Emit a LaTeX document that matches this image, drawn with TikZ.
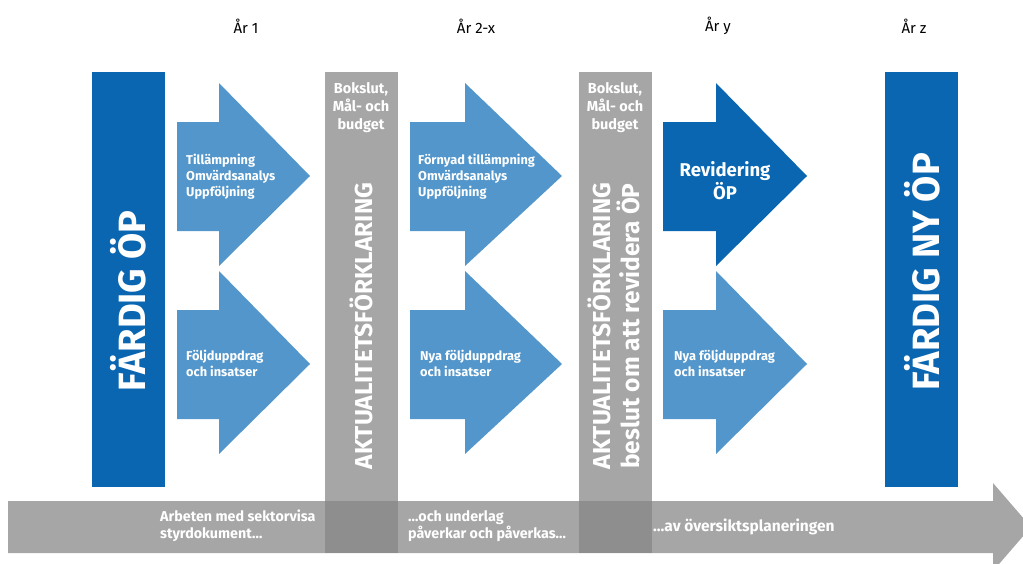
\documentclass[tikz,border=0pt]{standalone}
\usepackage{fontspec}
\setmainfont{Fira Sans}
\definecolor{dblue}{RGB}{10,102,176}
\definecolor{lblue}{RGB}{82,150,203}
\definecolor{gbar}{RGB}{166,166,166}
\definecolor{gdark}{RGB}{142,142,142}
\newcommand\myarrow[5]{%
  \fill[#1] (#2,{122+#5}) -- (#3,{122+#5}) -- (#3,{83+#5}) -- (#4,{176+#5}) -- (#3,{266+#5}) -- (#3,{231+#5}) -- (#2,{231+#5}) -- cycle;}
\begin{document}
\begin{tikzpicture}[x=1pt,y=-1pt,
  yearlbl/.style={font=\fontsize{15}{16}\selectfont, text=black},
  arrtxt/.style={font=\fontsize{12.8}{16}\selectfont\bfseries, text=white, align=left, anchor=west, inner sep=0pt},
  bartxt/.style={font=\fontsize{14.5}{18}\selectfont\bfseries, text=white, align=center, inner sep=0pt},
  vtxt/.style={font=\fontsize{24.5}{29}\selectfont\bfseries, text=white, align=center, rotate=90, inner sep=0pt},
  bigtxt/.style={font=\fontsize{38}{40}\selectfont\bfseries, text=white, rotate=90, inner sep=0pt},
  bottxt/.style={font=\fontsize{14.3}{17}\selectfont\bfseries, text=white, align=left, anchor=west, inner sep=0pt}]
\useasboundingbox (0,0) rectangle (1023,563);
\begin{scope}
\clip (0,0) rectangle (1023,563);
% bottom timeline arrow
\fill[gbar] (8,501) -- (993,501) -- (993,483) -- (1031,527) -- (993,571) -- (993,553) -- (8,553) -- cycle;
\end{scope}
% blue bars
\fill[dblue] (92,72) rectangle (165,487);
\fill[dblue] (885,72) rectangle (958,487);
% gray bars
\fill[gbar] (325,72) rectangle (398,553);
\fill[gbar] (579,72) rectangle (652,553);
\fill[gdark] (325,501) rectangle (398,553);
\fill[gdark] (579,501) rectangle (652,553);
% arrows
\myarrow{lblue}{177}{219}{310}{0}
\myarrow{lblue}{177}{219}{310}{188}
\myarrow{lblue}{410}{465}{562}{0}
\myarrow{lblue}{410}{465}{562}{188}
\myarrow{dblue}{663}{716}{807}{0}
\myarrow{lblue}{663}{716}{807}{188}
% year labels
\node[yearlbl] (y1) at (246,26) {År 1};
\node[yearlbl] (y2) at (476,26) {År 2-x};
\node[yearlbl] (y3) at (718,26) {År y};
\node[yearlbl] (y4) at (914,26) {År z};
% bar texts
\node[bigtxt] (fop) at (128,301) {FÄRDIG ÖP};
\node[bigtxt] (fnop) at (922,272) {FÄRDIG NY ÖP};
\node[bartxt] (bok1) at (361,108) {Bokslut,\\Mål- och\\budget};
\node[bartxt] (bok2) at (615,108) {Bokslut,\\Mål- och\\budget};
\node[vtxt] (akt1) at (361,326) {AKTUALITETSFÖRKLARING};
\node[vtxt] (akt2) at (614,326) {AKTUALITETSFÖRKLARING\\beslut om att revidera ÖP};
% arrow texts
\node[arrtxt] (a1) at (186,177) {Tillämpning\\Omvärdsanalys\\Uppföljning};
\node[arrtxt] (a2) at (186,363) {Följduppdrag\\och insatser};
\node[arrtxt] (a3) at (418,177) {Förnyad tillämpning\\Omvärdsanalys\\Uppföljning};
\node[arrtxt] (a4) at (420,363) {Nya följduppdrag\\och insatser};
\node[font=\fontsize{18.5}{23}\selectfont\bfseries, text=white, align=center, inner sep=0pt] (a5) at (725,181) {Revidering\\ÖP};
\node[arrtxt] (a6) at (674,363) {Nya följduppdrag\\och insatser};
% bottom texts
\node[bottxt] (b1) at (160,526) {Arbeten med sektorvisa\\styrdokument…};
\node[bottxt] (b2) at (408,526) {…och underlag\\påverkar och påverkas…};
\node[bottxt, font=\fontsize{15.5}{17}\selectfont\bfseries] (b3) at (653,527) {…av översiktsplaneringen};
\end{tikzpicture}
\end{document}
